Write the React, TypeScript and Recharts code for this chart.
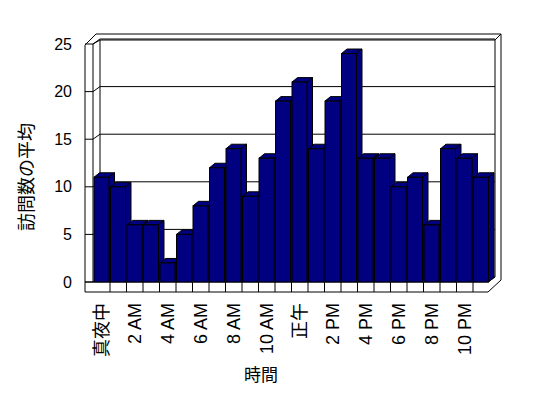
import { BarChart, Bar, XAxis, YAxis, CartesianGrid } from 'recharts'

const hours = [
  '真夜中', '1 AM', '2 AM', '3 AM', '4 AM', '5 AM', '6 AM', '7 AM', '8 AM', '9 AM', '10 AM', '11 AM',
  '正午', '1 PM', '2 PM', '3 PM', '4 PM', '5 PM', '6 PM', '7 PM', '8 PM', '9 PM', '10 PM', '11 PM',
]
const visits = [11, 10, 6, 6, 2, 5, 8, 12, 14, 9, 13, 19, 21, 14, 19, 24, 13, 13, 10, 11, 6, 14, 13, 11]
const yTicks = [0, 5, 10, 15, 20, 25]

const data = hours.map((hour, i) => ({ hour, visits: visits[i] }))

const FONT = "'Liberation Sans', 'Noto Sans CJK JP', sans-serif"
const NAVY = '#000080'
// depth offsets (oblique 3D look)
const BAR_DX = 5.5
const BAR_DY = 4.5
const WALL_DX = 7
const WALL_DY = 5

function Bar3D(props: any) {
  const { x, y, width, height, index } = props
  const bottom = y + height
  const top = [
    [x, y], [x + BAR_DX, y - BAR_DY], [x + width + BAR_DX, y - BAR_DY], [x + width, y],
  ].map(p => p.join(',')).join(' ')
  const side = [
    [x + width, y], [x + width + BAR_DX, y - BAR_DY], [x + width + BAR_DX, bottom - BAR_DY], [x + width, bottom],
  ].map(p => p.join(',')).join(' ')
  return (
    <g>
      <polygon points={top} fill={NAVY} stroke="#000" strokeWidth={1} />
      <polygon points={side} fill={NAVY} stroke="#000" strokeWidth={1} />
      <rect x={x} y={y} width={width} height={height} fill={NAVY} stroke="#000" strokeWidth={1} />
      {index < hours.length - 1 && (
        <line x1={x + width + 1} y1={bottom} x2={x + width + 1} y2={bottom + 10} stroke="#000" />
      )}
    </g>
  )
}

function GridLine(props: any) {
  const { y1, x1, x2, index } = props
  const backRight = x2 + WALL_DX - 1
  if (index === undefined) return null
  const d = `M85,${y1} H${x1} L${x1 + WALL_DX},${y1 - WALL_DY} H${backRight}`
  return <path d={d} fill="none" stroke="#000" strokeWidth={1} />
}

function Walls() {
  return (
    <g fill="none" stroke="#000" strokeWidth={1}>
      {/* outer wall edge */}
      <path d="M85,292 V45 L96,34 H501 V280 L488,292 H85" />
      {/* floor slab top */}
      <path d="M85,282 H488 L495,277" />
      {/* left wall inner edges */}
      <path d="M93,282 V44 L100,40 V277" />
      {/* back wall inner edge */}
      <path d="M100,40 H495 V277 M495,40 L501,34" />
    </g>
  )
}

function YTick(props: any) {
  const { y, payload } = props
  return (
    <text x={72} y={y} textAnchor="end" dominantBaseline="central"
      fontFamily={FONT} fontSize={16} fill="#000">
      {payload.value}
    </text>
  )
}

function XTick(props: any) {
  const { x, payload } = props
  return (
    <text transform={`translate(${x + 1},303) rotate(-90)`} textAnchor="end" dominantBaseline="central"
      fontFamily={FONT} fontSize={18} fill="#000">
      {payload.value}
    </text>
  )
}

export default function App() {
  return (
    <div style={{ position: 'absolute', left: 0, top: 0, width: 548, height: 398, background: '#fff' }}>
      <BarChart width={548} height={398} data={data}
        margin={{ top: 44, right: 59, left: 0, bottom: 36 }} barCategoryGap={1}>
        <Walls />
        <CartesianGrid vertical={false} horizontal={(p: any) => <GridLine {...p} />} />
        <XAxis dataKey="hour" interval={1} height={80} axisLine={false} tickLine={false}
          tick={<XTick />}
          label={{
            content: () => (
              <text x={261} y={375} textAnchor="middle" dominantBaseline="central"
                fontFamily={FONT} fontSize={17} fill="#000">時間</text>
            ),
          }} />
        <YAxis domain={[0, 25]} ticks={yTicks} width={93} axisLine={false} tickLine={false}
          tick={<YTick />}
          label={{
            content: () => (
              <text transform="translate(27,177) rotate(-90)" textAnchor="middle" dominantBaseline="central"
                fontFamily={FONT} fontSize={18} fill="#000">訪問数の平均</text>
            ),
          }} />
        <Bar dataKey="visits" shape={<Bar3D />} isAnimationActive={false} />
      </BarChart>
    </div>
  )
}
